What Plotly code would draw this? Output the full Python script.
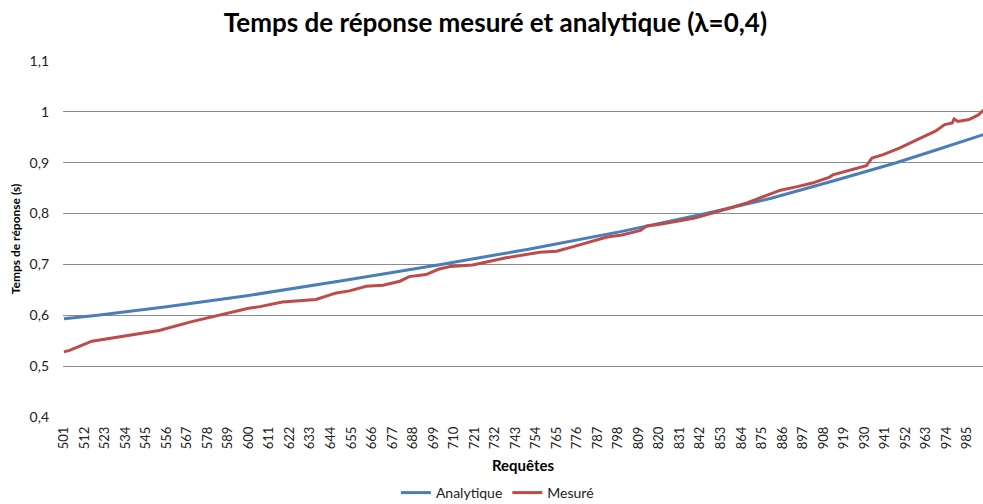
import plotly.graph_objects as go

# Request index where each value was sampled
analytic_req = [501, 519, 556, 600, 650, 703, 750, 800, 845, 880, 915, 947, 970, 996]
analytic_val = [0.593, 0.600, 0.617, 0.639, 0.668, 0.700, 0.730, 0.765, 0.800, 0.830,
                0.866, 0.900, 0.927, 0.958]

measured_req = [501, 504, 516, 534, 552, 570, 588, 600, 606, 618, 636, 647, 654, 663,
                672, 681, 686, 695, 702, 708, 720, 738, 756, 765, 774, 783, 792, 800,
                810, 813, 822, 839, 849, 858, 867, 876, 885, 894, 902, 911, 913, 931,
                934, 940, 949, 958, 968, 973, 977, 978, 980, 986, 991, 994, 1000]
measured_val = [0.528, 0.531, 0.549, 0.560, 0.570, 0.588, 0.604, 0.614, 0.617, 0.626,
                0.631, 0.644, 0.648, 0.657, 0.659, 0.667, 0.676, 0.680, 0.691, 0.696,
                0.699, 0.713, 0.724, 0.726, 0.735, 0.744, 0.754, 0.758, 0.767, 0.775,
                0.780, 0.791, 0.801, 0.811, 0.821, 0.834, 0.846, 0.853, 0.860, 0.871,
                0.876, 0.894, 0.909, 0.916, 0.929, 0.945, 0.962, 0.975, 0.978, 0.986,
                0.981, 0.985, 0.994, 1.004, 1.012]

tick_req = list(range(501, 1001, 11))
tick_text = [str(t) for t in tick_req]

BLUE = "#4a7ebb"
RED = "#be4b48"
FONT = "Lato"

fig = go.Figure()
fig.add_trace(go.Scatter(x=analytic_req, y=analytic_val, mode="lines", name="Analytique",
                         line=dict(color=BLUE, width=3)))
fig.add_trace(go.Scatter(x=measured_req, y=measured_val, mode="lines", name="Mesuré",
                         line=dict(color=RED, width=3)))

fig.update_layout(
    width=983, height=504,
    margin=dict(l=63, r=0, t=61, b=87),
    paper_bgcolor="white", plot_bgcolor="white",
    separators=", ",
    font=dict(family=FONT, size=13, color="#222"),
    title=dict(text="<b>Temps de réponse mesuré et analytique (λ=0,4)</b>",
               x=0.504, xref="container", xanchor="center",
               y=1 - 23 / 504, yref="container", yanchor="middle",
               font=dict(family=FONT, size=26, color="black")),
    showlegend=True,
    legend=dict(orientation="h", x=0.506, xref="container", xanchor="center",
                y=1 - 493 / 504, yref="container", yanchor="middle",
                font=dict(size=14, color="#222"), itemwidth=30,
                tracegroupgap=0),
    xaxis=dict(range=[500.5, 993.5], tickmode="array", tickvals=tick_req,
               ticktext=tick_text, tickangle=-90, tickfont=dict(size=13),
               showgrid=False, showline=False, zeroline=False,
               ticks="", ticklabelstandoff=6,
               title=dict(text="<b>Requêtes</b>", font=dict(size=15, color="black"),
                          standoff=12)),
    yaxis=dict(range=[0.4, 1.1], dtick=0.1, tick0=0.4, showgrid=True,
               gridcolor="#8c8c8c", gridwidth=1, zeroline=False, showline=False,
               tickfont=dict(size=14), ticklabelstandoff=13,
               title=dict(text="<b>Temps de réponse (s)</b>",
                          font=dict(size=12, color="black"), standoff=6)),
)

fig.write_html("out.html")
